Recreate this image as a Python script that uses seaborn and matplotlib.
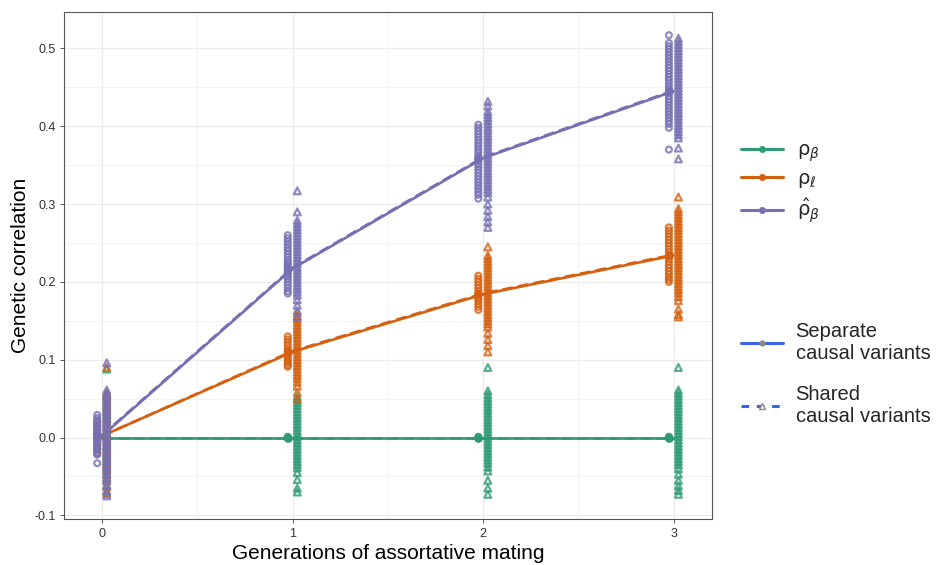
import matplotlib
matplotlib.use("Agg")
import matplotlib.pyplot as plt
import numpy as np
import pandas as pd
import seaborn as sns
from matplotlib.lines import Line2D
from matplotlib.ticker import MultipleLocator

sns.set_theme(style="white")
plt.rcParams['font.family'] = ['Liberation Sans', 'DejaVu Sans']
plt.rcParams['mathtext.fontset'] = 'dejavusans'

generations = [0, 1, 2, 3]
series_names = ["rho_beta", "rho_l", "rho_hat_beta"]
series_colors = {"rho_beta": "#2E9B74", "rho_l": "#D5600F", "rho_hat_beta": "#7570B3"}
legend_labels = [r'$\mathrm{\rho}_{\beta}$', r'$\mathrm{\rho}_{\ell}$', r'$\hat{\mathrm{\rho}}_{\beta}$']

# replicate estimates, one list per generation
rho_beta_sep = [
    [0.0, 0.0],
    [0.001, 0.0, -0.001],
    [0.001, 0.0, -0.001],
    [0.001, 0.0, -0.001],
]
rho_beta_shared = [
    [0.088, 0.055, 0.050, 0.045, 0.040, 0.035, 0.030, 0.025, 0.020, 0.015, 0.010, 0.005, 0.0,
     -0.005, -0.010, -0.015, -0.020, -0.025, -0.030, -0.035, -0.040, -0.046, -0.053, -0.061, -0.070],
    [0.053, 0.049, 0.045, 0.041, 0.037, 0.033, 0.029, 0.025, 0.021, 0.017, 0.013, 0.009, 0.005, 0.001,
     -0.003, -0.007, -0.011, -0.015, -0.019, -0.023, -0.027, -0.031, -0.035, -0.039, -0.045,
     -0.054, -0.065, -0.070],
    [0.090, 0.060, 0.055, 0.051, 0.047, 0.043, 0.039, 0.035, 0.031, 0.027, 0.023, 0.019, 0.015, 0.011,
     0.007, 0.003, -0.001, -0.005, -0.009, -0.013, -0.017, -0.021, -0.025, -0.029, -0.033, -0.038,
     -0.043, -0.055, -0.065, -0.073],
    [0.090, 0.061, 0.057, 0.053, 0.049, 0.045, 0.041, 0.037, 0.033, 0.029, 0.025, 0.021, 0.017, 0.013,
     0.009, 0.005, 0.001, -0.003, -0.007, -0.011, -0.015, -0.019, -0.023, -0.027, -0.031, -0.035,
     -0.040, -0.047, -0.055, -0.062, -0.068, -0.073],
]
rho_l_sep = [
    [0.020, 0.015, 0.010, 0.005, 0.0, -0.005, -0.010, -0.015, -0.020],
    [0.130, 0.126, 0.122, 0.118, 0.114, 0.111, 0.108, 0.105, 0.102, 0.099, 0.096, 0.093, 0.091],
    [0.208, 0.204, 0.200, 0.196, 0.192, 0.188, 0.185, 0.182, 0.179, 0.176, 0.172, 0.168, 0.164],
    [0.270, 0.266, 0.262, 0.258, 0.254, 0.250, 0.246, 0.242, 0.238, 0.234, 0.230, 0.226, 0.222,
     0.218, 0.214, 0.210, 0.206, 0.203, 0.200],
]
rho_l_shared = [
    [0.090, 0.058, 0.053, 0.048, 0.043, 0.038, 0.033, 0.028, 0.023, 0.018, 0.013, 0.008, 0.003,
     -0.002, -0.007, -0.012, -0.017, -0.022, -0.027, -0.032, -0.037, -0.042, -0.048, -0.055,
     -0.063, -0.072],
    [0.160, 0.156, 0.152, 0.148, 0.144, 0.140, 0.136, 0.132, 0.128, 0.124, 0.120, 0.116, 0.112,
     0.108, 0.104, 0.100, 0.096, 0.092, 0.088, 0.084, 0.080, 0.076, 0.071, 0.066, 0.058, 0.049],
    [0.245, 0.234, 0.230, 0.226, 0.222, 0.218, 0.214, 0.210, 0.206, 0.202, 0.198, 0.194, 0.190,
     0.186, 0.182, 0.178, 0.174, 0.170, 0.166, 0.162, 0.158, 0.154, 0.150, 0.146, 0.142, 0.134,
     0.126, 0.118, 0.110],
    [0.309, 0.294, 0.290, 0.286, 0.282, 0.278, 0.274, 0.270, 0.266, 0.262, 0.258, 0.254, 0.250,
     0.246, 0.242, 0.238, 0.234, 0.230, 0.226, 0.222, 0.218, 0.214, 0.210, 0.206, 0.202, 0.198,
     0.194, 0.190, 0.186, 0.181, 0.176, 0.165, 0.158, 0.155],
]
rho_hat_beta_sep = [
    [0.029, 0.025, 0.022, 0.019, 0.016, 0.013, 0.010, 0.008, 0.006, 0.004, 0.002, 0.0, -0.002,
     -0.004, -0.006, -0.008, -0.011, -0.014, -0.017, -0.020, -0.022, -0.033],
    [0.260, 0.256, 0.252, 0.248, 0.244, 0.240, 0.236, 0.232, 0.228, 0.225, 0.222, 0.219, 0.216,
     0.213, 0.210, 0.207, 0.204, 0.200, 0.196, 0.192, 0.188, 0.185],
    [0.402, 0.398, 0.394, 0.390, 0.386, 0.382, 0.378, 0.374, 0.370, 0.366, 0.362, 0.359, 0.356,
     0.352, 0.348, 0.344, 0.340, 0.336, 0.332, 0.328, 0.324, 0.320, 0.316, 0.312, 0.307],
    [0.517, 0.507, 0.503, 0.499, 0.495, 0.491, 0.487, 0.483, 0.479, 0.475, 0.471, 0.467, 0.463,
     0.459, 0.455, 0.451, 0.447, 0.443, 0.439, 0.435, 0.431, 0.427, 0.423, 0.419, 0.415, 0.411,
     0.407, 0.403, 0.398, 0.370],
]
rho_hat_beta_shared = [
    [0.096, 0.061, 0.057, 0.053, 0.049, 0.045, 0.041, 0.037, 0.033, 0.029, 0.025, 0.021, 0.017,
     0.013, 0.009, 0.005, 0.001, -0.003, -0.007, -0.011, -0.015, -0.019, -0.023, -0.027, -0.031,
     -0.035, -0.039, -0.043, -0.047, -0.051, -0.056, -0.062, -0.068, -0.075],
    [0.317, 0.290, 0.279, 0.275, 0.271, 0.267, 0.263, 0.259, 0.255, 0.251, 0.247, 0.243, 0.239,
     0.235, 0.231, 0.227, 0.223, 0.219, 0.215, 0.211, 0.207, 0.203, 0.199, 0.195, 0.191, 0.187,
     0.183, 0.177, 0.170, 0.163, 0.155],
    [0.432, 0.426, 0.419, 0.415, 0.411, 0.407, 0.403, 0.399, 0.395, 0.391, 0.387, 0.383, 0.379,
     0.375, 0.371, 0.367, 0.363, 0.359, 0.355, 0.351, 0.347, 0.343, 0.339, 0.335, 0.331, 0.327,
     0.323, 0.319, 0.315, 0.309, 0.300, 0.292, 0.284, 0.277, 0.270],
    [0.513, 0.509, 0.505, 0.501, 0.497, 0.493, 0.489, 0.485, 0.481, 0.477, 0.473, 0.469, 0.465,
     0.461, 0.457, 0.453, 0.449, 0.445, 0.441, 0.437, 0.433, 0.429, 0.425, 0.421, 0.417, 0.413,
     0.409, 0.405, 0.401, 0.397, 0.393, 0.389, 0.385, 0.372, 0.358],
]

# mean per generation (lines)
mean_rho_beta_sep = [0.0, 0.0, 0.0, 0.0]
mean_rho_beta_shared = [0.0, 0.0, 0.0, 0.0]
mean_rho_l_sep = [0.002, 0.110, 0.184, 0.234]
mean_rho_l_shared = [0.002, 0.111, 0.185, 0.235]
mean_rho_hat_beta_sep = [0.002, 0.217, 0.359, 0.445]
mean_rho_hat_beta_shared = [0.003, 0.218, 0.360, 0.446]

points_src = {
    ("rho_beta", "Separate"): rho_beta_sep, ("rho_beta", "Shared"): rho_beta_shared,
    ("rho_l", "Separate"): rho_l_sep, ("rho_l", "Shared"): rho_l_shared,
    ("rho_hat_beta", "Separate"): rho_hat_beta_sep, ("rho_hat_beta", "Shared"): rho_hat_beta_shared,
}
means_src = {
    ("rho_beta", "Separate"): mean_rho_beta_sep, ("rho_beta", "Shared"): mean_rho_beta_shared,
    ("rho_l", "Separate"): mean_rho_l_sep, ("rho_l", "Shared"): mean_rho_l_shared,
    ("rho_hat_beta", "Separate"): mean_rho_hat_beta_sep, ("rho_hat_beta", "Shared"): mean_rho_hat_beta_shared,
}
dodge = {"Separate": -0.025, "Shared": 0.025}

rows = []
for (s, t), per_gen in points_src.items():
    for g, vals in zip(generations, per_gen):
        for v in vals:
            rows.append({"series": s, "type": t, "gen": g, "value": v})
pts = pd.DataFrame(rows)
pts["xpos"] = pts["gen"] + pts["type"].map(dodge)

mrows = []
for (s, t), vals in means_src.items():
    for g, v in zip(generations, vals):
        mrows.append({"series": s, "type": t, "gen": g, "value": v})
means = pd.DataFrame(mrows)
means["xpos"] = means["gen"] + means["type"].map(dodge)

fig = plt.figure(figsize=(9.39, 5.65), dpi=100)
ax = fig.add_axes([0.068, 0.081, 0.69, 0.898])

# mean lines (shared dashed underneath, separate solid on top)
for s in series_names:
    col = series_colors[s]
    d = means[means.series == s]
    sns.lineplot(data=d, x="gen", y="value", style="type", color=col,
                 dashes={"Separate": "", "Shared": (4, 2)},
                 style_order=["Shared", "Separate"],
                 linewidth=1.9, ax=ax, legend=False, zorder=3)
    dm = d[d.type == "Separate"]
    sns.scatterplot(data=dm, x="xpos", y="value", color=col, s=38, linewidth=0,
                    ax=ax, legend=False, zorder=3)

for s in series_names:
    col = series_colors[s]
    for t, mk, sz in [("Separate", "o", 18), ("Shared", "^", 24)]:
        d = pts[(pts.series == s) & (pts.type == t)]
        sns.scatterplot(data=d, x="xpos", y="value", marker=mk, s=sz, color=col,
                        facecolor="none", edgecolor=col, linewidth=1.6, alpha=0.8,
                        ax=ax, legend=False, zorder=4)

ax.set_xlim(-0.2, 3.2)
ax.set_ylim(-0.105, 0.547)
ax.xaxis.set_major_locator(MultipleLocator(1))
ax.xaxis.set_minor_locator(MultipleLocator(0.5))
ax.yaxis.set_major_locator(MultipleLocator(0.1))
ax.yaxis.set_minor_locator(MultipleLocator(0.05))
ax.set_yticks([-0.1, 0.0, 0.1, 0.2, 0.3, 0.4, 0.5])
ax.set_yticklabels(["-0.1", "0.0", "0.1", "0.2", "0.3", "0.4", "0.5"])
ax.grid(which="major", color="#EBEBEB", linewidth=0.9)
ax.grid(which="minor", color="#F2F2F2", linewidth=0.6)
ax.set_axisbelow(True)
for sp in ax.spines.values():
    sp.set_color("#555555")
    sp.set_linewidth(0.8)
ax.tick_params(axis="both", which="major", length=3, width=0.7, color="#555555",
               labelsize=9, labelcolor="#333333", pad=3, bottom=True, left=True)
ax.tick_params(which="minor", length=0)
ax.set_xlabel("Generations of assortative mating", fontsize=15, color="black", labelpad=3)
ax.set_ylabel("Genetic correlation", fontsize=15, color="black", labelpad=3)

h1 = [Line2D([0], [0], color=series_colors[s], linewidth=2.2, marker="o", markersize=4)
      for s in series_names]
leg1 = fig.legend(h1, legend_labels, loc="center left", bbox_to_anchor=(0.770, 0.675),
                  frameon=False, fontsize=14, handlelength=2.2, handletextpad=0.7,
                  labelspacing=0.35)
blue = "#3B63E6"
h2 = [Line2D([0], [0], color=blue, linewidth=2.2, marker="o", markersize=3.5,
             markerfacecolor="#8A8A8A", markeredgecolor="#8A8A8A"),
      Line2D([0], [0], color=blue, linewidth=2.2, linestyle=(0, (2.5, 2.5)), marker="^",
             markersize=5, markerfacecolor="white", markeredgecolor="#8A8A8A")]
leg2 = fig.legend(h2, ["Separate\ncausal variants", "Shared\ncausal variants"],
                  loc="center left", bbox_to_anchor=(0.770, 0.338), frameon=False,
                  fontsize=14.5, handlelength=2.1, handletextpad=0.6, labelspacing=1.1)

fig.savefig("out.png", dpi=100)
